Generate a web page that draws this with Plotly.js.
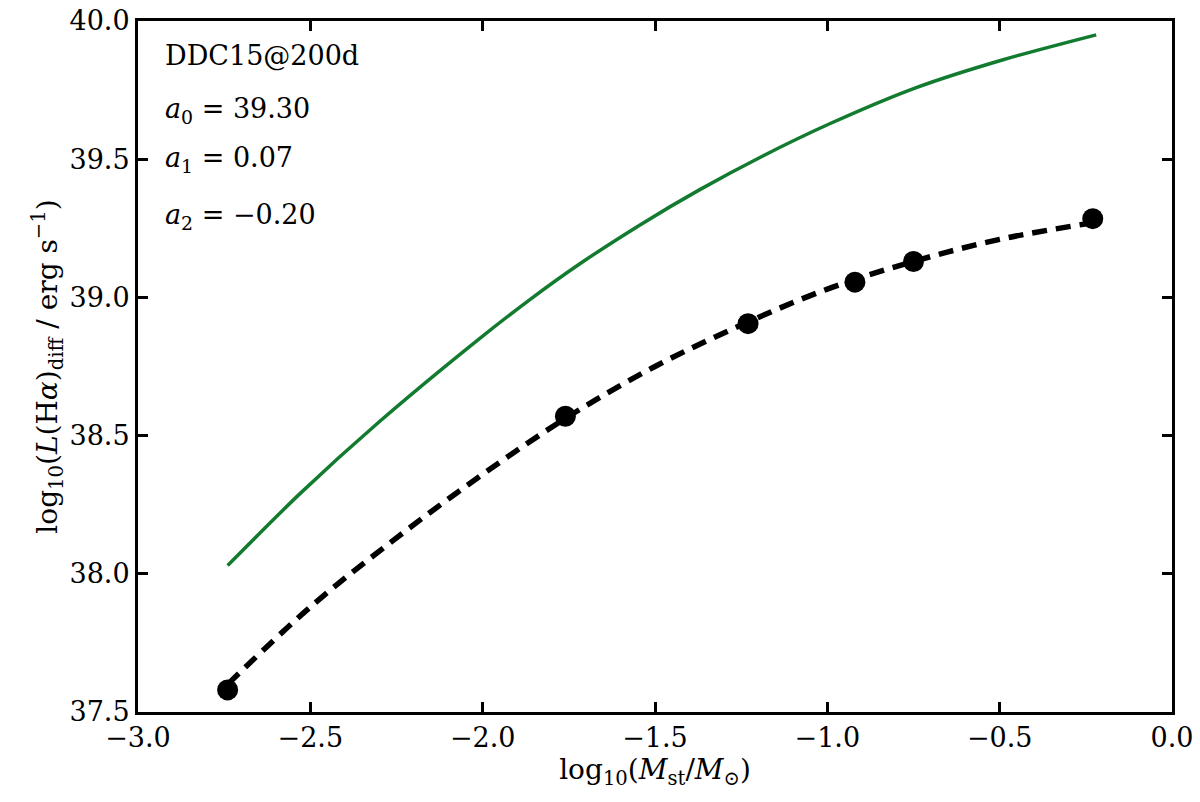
<!DOCTYPE html>
<html>
<head>
<meta charset="utf-8">
<script src="https://cdn.plot.ly/plotly-3.0.1.min.js"></script>
<style>html,body{margin:0;padding:0;background:#fff}</style>
</head>
<body>
<div id="myDiv" style="width:1200px;height:802px"></div>
<script>
// model points
var ptsX = [-2.74, -1.76, -1.23, -0.92, -0.75, -0.23];
var ptsY = [37.58, 38.57, 38.905, 39.055, 39.13, 39.285];

// fitted curve (dashed)
var fitX = [-2.74, -2.5, -2.25, -2.0, -1.75, -1.5, -1.25, -1.0, -0.75, -0.5, -0.23];
var fitY = [37.60, 37.88, 38.13, 38.36, 38.57, 38.75, 38.90, 39.03, 39.13, 39.21, 39.27];

// green curve
var greenX = [-2.74, -2.53, -2.30, -2.01, -1.86, -1.72, -1.54, -1.37, -1.19, -0.99, -0.74, -0.49, -0.22];
var greenY = [38.03, 38.29, 38.55, 38.85, 38.995, 39.12, 39.265, 39.39, 39.51, 39.63, 39.76, 39.86, 39.95];

var labels = ['DDC15@200d', '<i>a</i><sub>0</sub> = 39.30', '<i>a</i><sub>1</sub> = 0.07', '<i>a</i><sub>2</sub> = −0.20'];
var labelY = [0.950, 0.870, 0.799, 0.717];

var font = 'DejaVu Serif, Liberation Serif, serif';

var trace1 = {
  x: greenX,
  y: greenY,
  mode: 'lines',
  line: {color: '#137b2f', width: 3.5, shape: 'spline', smoothing: 0.8},
  hoverinfo: 'skip'
};

var trace2 = {
  x: fitX,
  y: fitY,
  mode: 'lines',
  line: {color: 'black', width: 5.5, dash: '15px,9px', shape: 'spline'}
};

var trace3 = {
  x: ptsX,
  y: ptsY,
  mode: 'markers',
  marker: {color: 'black', size: 21}
};

var data = [trace1, trace2, trace3];

var annots = labels.map(function (t, i) {
  return {
    text: t,
    xref: 'paper', yref: 'paper',
    x: 0.024, y: labelY[i],
    xanchor: 'left', yanchor: 'middle',
    showarrow: false,
    font: {family: font, size: 27, color: 'black'}
  };
});

var axisBase = {
  showgrid: false,
  zeroline: false,
  showline: true,
  linecolor: 'black',
  linewidth: 3,
  mirror: 'ticks',
  ticks: 'inside',
  ticklen: 10,
  tickwidth: 2.5,
  tickcolor: 'black',
  tickformat: '.1f',
  tickfont: {family: font, size: 27, color: 'black'}
};

var layout = {
  width: 1200,
  height: 802,
  showlegend: false,
  paper_bgcolor: 'white',
  plot_bgcolor: 'white',
  margin: {l: 138, r: 28, t: 21, b: 90},
  xaxis: Object.assign({}, axisBase, {
    range: [-3.0, 0.0],
    dtick: 0.5,
    tick0: -3.0,
    title: {
      text: 'log<sub>10</sub>(<i>M</i><sub>st</sub>/<i>M</i><sub>⊙</sub>)',
      font: {family: font, size: 28, color: 'black'},
      standoff: 2
    }
  }),
  yaxis: Object.assign({}, axisBase, {
    range: [37.5, 40.0],
    dtick: 0.5,
    tick0: 37.5,
    title: {
      text: 'log<sub>10</sub>(<i>L</i>(H<i>α</i>)<sub>diff</sub> / erg s<sup>−1</sup>)',
      font: {family: font, size: 28, color: 'black'},
      standoff: 4
    }
  }),
  annotations: annots
};

Plotly.newPlot('myDiv', data, layout, {displayModeBar: false});
</script>
</body>
</html>
